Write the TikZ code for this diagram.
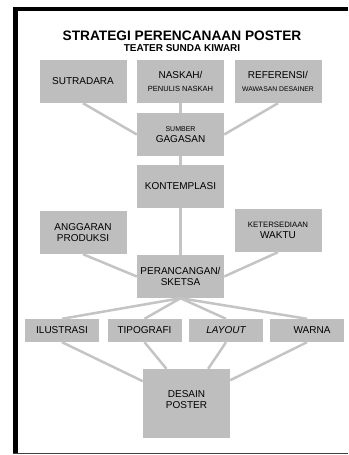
\documentclass[tikz,border=0pt]{standalone}
\usepackage{fontspec}
\setmainfont{Liberation Sans}
\definecolor{abu}{RGB}{190,190,190}
\definecolor{abugaris}{RGB}{196,196,196}
\begin{document}
\begin{tikzpicture}[x=1pt,y=1pt]
\tikzstyle{every node}+=[inner sep=0pt]
\tikzstyle{kotak}=[fill=abu, minimum width=87pt, minimum height=43pt, align=center, font=\fontsize{10}{11.5}\selectfont]
\tikzstyle{kotakkecil}=[kotak, minimum width=74pt, minimum height=23pt]
\tikzstyle{garis}=[draw=abugaris, line width=2.5pt]
\useasboundingbox (0,0) rectangle (348,-455);
\fill [black] (13,-7) rectangle (348,-11);
\fill [black] (13,-7) rectangle (18,-453);
\draw [black!75, line width=1pt] (13,-453) -- (348,-453);
\node (judul) at (182,-36) {\bfseries\fontsize{13.7}{15}\selectfont STRATEGI PERENCANAAN POSTER};
\node (subjudul) at (182,-48) {\bfseries\fontsize{10}{11}\selectfont TEATER SUNDA KIWARI};
\node [kotak] (sutradara) at (83,-81.5) {SUTRADARA};
\node [kotak] (naskah) at (180.5,-81.5) {NASKAH/\\[1pt]{\fontsize{7.5}{8}\selectfont PENULIS NASKAH}};
\node [kotak] (referensi) at (278,-81.5) {REFERENSI/\\[1pt]{\fontsize{6.8}{8}\selectfont WAWASAN DESAINER}};
\node [kotak] (gagasan) at (180.5,-134.5) {{\fontsize{7}{8}\selectfont SUMBER}\\GAGASAN};
\node [kotak] (kontemplasi) at (180.5,-186.5) {KONTEMPLASI};
\node [kotak] (anggaran) at (83,-232.5) {ANGGARAN\\PRODUKSI};
\node [kotak] (waktu) at (278,-230.5) {{\fontsize{7.8}{9}\selectfont KETERSEDIAAN}\\WAKTU};
\node [kotak] (perancangan) at (180.5,-276.5) {PERANCANGAN/\\SKETSA};
\node [kotakkecil] (ilustrasi) at (62,-330.5) {ILUSTRASI};
\node [kotakkecil] (tipografi) at (144.5,-330.5) {TIPOGRAFI};
\node [kotakkecil] (layout) at (226,-330.5) {\itshape LAYOUT};
\node [kotakkecil] (warna) at (307,-330.5) {\hspace{10pt}WARNA};
\node [kotak, minimum height=69pt] (desain) at (186.5,-403.5) {DESAIN\\POSTER\\[-3.5pt]\mbox{}};
\draw [garis] (sutradara.south) -- (gagasan.west);
\draw [garis] (naskah.south) -- (gagasan.north);
\draw [garis] (referensi.south) -- (gagasan.east);
\draw [garis] (gagasan.south) -- (kontemplasi.north);
\draw [garis] (kontemplasi.south) -- (perancangan.north);
\draw [garis] (anggaran.south) -- (perancangan.west);
\draw [garis] (waktu.south) -- (perancangan.east);
\draw [garis] (perancangan.south) -- (ilustrasi.north);
\draw [garis] (perancangan.south) -- (tipografi.north);
\draw [garis] (perancangan.south) -- (layout.north);
\draw [garis] (perancangan.south) -- (warna.north);
\draw [garis] (ilustrasi.south) -- (desain.153);
\draw [garis] (tipografi.south) -- (desain.120);
\draw [garis] (layout.south) -- (desain.58);
\draw [garis] (warna.south) -- (desain.28);
\end{tikzpicture}
\end{document}
